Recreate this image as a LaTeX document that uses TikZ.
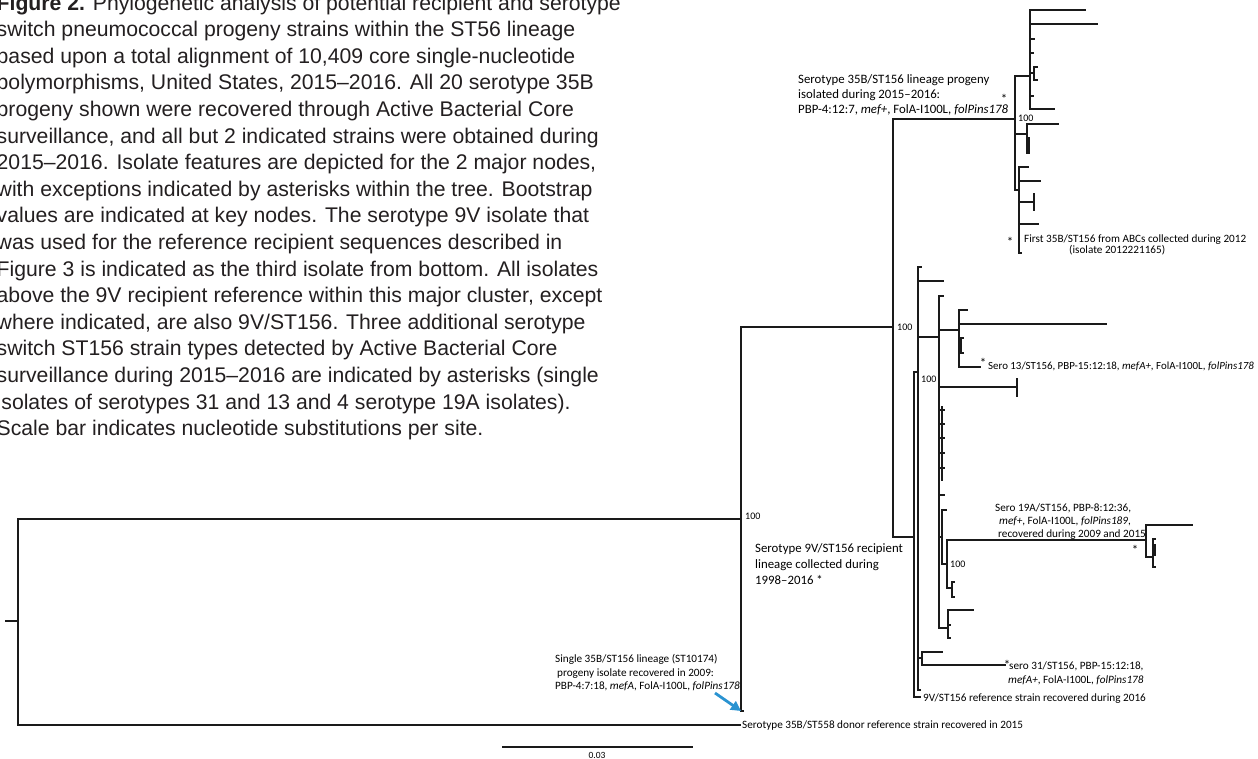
\documentclass[tikz,border=0pt]{standalone}
\usepackage{fontspec}
\setmainfont{Liberation Sans}
\newfontfamily\carl{Carlito}
\usetikzlibrary{arrows.meta}
\definecolor{capcol}{HTML}{231F20}
\definecolor{treecol}{HTML}{1A1A1A}
\definecolor{arrblue}{HTML}{2A93D1}
\newcommand{\hbr}[3]{\draw[br] (#1,#3) -- (#2,#3);}
\newcommand{\vbr}[3]{\draw[br] (#1,#2) -- (#1,#3);}
\begin{document}
\begin{tikzpicture}[x=1pt,y=-1pt,
  br/.style={line width=1.2pt,line cap=rect,draw=treecol},
  captxt/.style={anchor=base west,inner sep=0,font=\fontsize{21.2}{24}\selectfont,text=capcol},
  lab/.style={anchor=base west,inner sep=0,font=\carl\fontsize{12.8}{15}\selectfont},
  sml/.style={anchor=base west,inner sep=0,font=\carl\fontsize{11.2}{13}\selectfont},
  bs/.style={anchor=base west,inner sep=0,font=\carl\fontsize{10}{12}\selectfont},
  ast/.style={anchor=base,inner sep=0,font=\carl\fontsize{13}{13}\selectfont}]
\useasboundingbox (0,0) rectangle (1258,758);
% caption
\node[captxt] (c1) at (-3.5,10) {\textbf{Figure 2.} Phylogenetic analysis of potential recipient and serotype};
\node[captxt] (c2) at (-3.5,36.6) {switch pneumococcal progeny strains within the ST56 lineage};
\node[captxt] (c3) at (-3.5,63.2) {based upon a total alignment of 10,409 core single-nucleotide};
\node[captxt] (c4) at (-3.5,89.8) {polymorphisms, United States, 2015–2016. All 20 serotype 35B};
\node[captxt] (c5) at (-3.5,116.4) {progeny shown were recovered through Active Bacterial Core};
\node[captxt] (c6) at (-3.5,143) {surveillance, and all but 2 indicated strains were obtained during};
\node[captxt] (c7) at (-3.5,169.6) {2015–2016. Isolate features are depicted for the 2 major nodes,};
\node[captxt] (c8) at (-3.5,196.2) {with exceptions indicated by asterisks within the tree. Bootstrap};
\node[captxt] (c9) at (-3.5,222.8) {values are indicated at key nodes. The serotype 9V isolate that};
\node[captxt] (c10) at (-3.5,249.4) {was used for the reference recipient sequences described in};
\node[captxt] (c11) at (-3.5,276) {Figure 3 is indicated as the third isolate from bottom. All isolates};
\node[captxt] (c12) at (-3.5,302.6) {above the 9V recipient reference within this major cluster, except};
\node[captxt] (c13) at (-3.5,329.2) {where indicated, are also 9V/ST156. Three additional serotype};
\node[captxt] (c14) at (-3.5,355.8) {switch ST156 strain types detected by Active Bacterial Core};
\node[captxt] (c15) at (-3.5,382.4) {surveillance during 2015–2016 are indicated by asterisks (single};
\node[captxt] (c16) at (-3.5,409) {isolates of serotypes 31 and 13 and 4 serotype 19A isolates).};
\node[captxt] (c17) at (-3.5,435.6) {Scale bar indicates nucleotide substitutions per site.};
% ---- tree ----
% root
\vbr{18}{519}{725}
\hbr{6}{18}{621}
\hbr{18}{741}{519}
\hbr{18}{740}{725}
% A
\vbr{741}{327}{711}
\hbr{741}{893}{327}
\hbr{741}{743}{711}
% B
\vbr{893}{119}{537}
\hbr{893}{1015}{119}
\hbr{893}{914}{537}
% C
\vbr{1015}{76}{190}
\hbr{1015}{1030}{76}
\hbr{1015}{1027}{134}
\hbr{1015}{1019}{190}
% D
\vbr{1030}{10}{109}
\hbr{1030}{1085}{10}
\hbr{1030}{1097}{24}
\hbr{1030}{1034}{39}
\hbr{1030}{1033}{53}
\hbr{1030}{1034}{73}
\vbr{1034}{67}{80}
\hbr{1034}{1037}{67}
\hbr{1034}{1037}{80}
\hbr{1030}{1033}{96}
\hbr{1030}{1054}{109}
% E
\vbr{1027}{124}{153}
\hbr{1027}{1058}{124}
\draw[br,line width=2pt] (1028.5,138) -- (1028.5,153);
% F
\vbr{1019}{167}{253}
\hbr{1019}{1028}{167}
\hbr{1019}{1040}{181}
\hbr{1019}{1034}{202}
\vbr{1034}{194}{210}
\hbr{1019}{1038}{224}
\hbr{1019}{1021}{253}
% G
\vbr{914}{372}{697}
\hbr{914}{918}{372}
\hbr{914}{920}{697}
% H
\vbr{918}{267}{690}
\hbr{918}{921}{267}
\hbr{918}{943}{281}
\hbr{918}{939}{337}
\hbr{918}{922}{658}
\hbr{918}{920}{690}
% I
\vbr{939}{296}{628}
\hbr{939}{943}{296}
\hbr{939}{959}{330}
\hbr{939}{1017}{387}
\vbr{1017}{379}{396}
\draw[br,line width=2pt] (941.5,407) -- (941.5,480);
\foreach \yy in {410,424,438,453,468,495} {\hbr{939}{944}{\yy}}
\hbr{939}{942}{537}
\hbr{939}{948}{628}
% N
\vbr{942}{510}{564}
\hbr{942}{946}{510}
\hbr{942}{947}{564}
% L
\vbr{947}{540}{588}
\hbr{947}{1146}{540}
\hbr{947}{952}{588}
\vbr{952}{582}{597}
\hbr{952}{954}{582}
\hbr{952}{954}{597}
% O
\vbr{1146}{525}{557}
\hbr{1146}{1192}{525}
\hbr{1146}{1153}{557}
% P
\vbr{1153}{539}{567}
\hbr{1153}{1155}{539}
\hbr{1153}{1155}{550}
\vbr{1155}{545}{555}
\hbr{1153}{1155}{567}
% M
\vbr{948}{610}{638}
\hbr{948}{973}{610}
\hbr{948}{950}{625}
\hbr{948}{950}{638}
% K
\vbr{922}{652}{665}
\hbr{922}{942}{652}
\hbr{922}{1005}{665}
% J
\vbr{959}{310}{367}
\hbr{959}{967}{310}
\hbr{959}{1106}{324}
\hbr{959}{961}{345}
\vbr{961}{338}{353}
\hbr{961}{963}{338}
\hbr{961}{963}{353}
\hbr{959}{980}{367}
% scale bar
\coordinate (sbl) at (503,747);
\coordinate (sbr) at (692,747);
\draw[br] (sbl) -- (sbr);
\node[inner sep=0,anchor=base,font=\carl\fontsize{9.5}{10}\selectfont] (sbt) at (597,758) {0.03};
% bootstrap values
\node[bs] (bA) at (745,519.5) {100};
\node[bs] (bB) at (897,330.5) {100};
\node[bs] (bC) at (1018,121.5) {100};
\node[bs] (bH) at (921,382.5) {100};
\node[bs] (bL) at (950,567.5) {100};
% labels
\node[lab] (p1) at (798,83) {Serotype 35B/ST156 lineage progeny};
\node[lab] (p2) at (798,98) {isolated during 2015–2016:};
\node[lab] (p3) at (798,113) {PBP-4:12:7, \textit{mef+}, FolA-I100L, \textit{folPins178}};
\node[ast] (a1) at (1004,103.5) {*};
\node[ast] (a2) at (1010,246) {*};
\node[sml] (f1) at (1024,242.5) {First 35B/ST156 from ABCs collected during 2012};
\node[sml] (f2) at (1069,253) {(isolate 2012221165)};
\node[ast] (a3) at (983,367) {*};
\node[sml,font=\carl\fontsize{10.9}{13}\selectfont] (s13) at (988,369) {Sero 13/ST156, PBP-15:12:18, \textit{mefA+}, FolA-I100L, \textit{folPins178}};
\node[sml] (s19a) at (995,511) {Sero 19A/ST156, PBP-8:12:36,};
\node[sml] (s19b) at (999,524) {\textit{mef+}, FolA-I100L, \textit{folPins189},};
\node[sml] (s19c) at (998,537) {recovered during 2009 and 2015};
\node[ast] (a4) at (1135,554) {*};
\node[lab] (v1) at (755,552) {Serotype 9V/ST156 recipient};
\node[lab] (v2) at (755,568) {lineage collected during};
\node[lab] (v3) at (755,584) {1998–2016 *};
\node[ast] (a5) at (1007,669) {*};
\node[sml] (s31a) at (1009,669) {sero 31/ST156, PBP-15:12:18,};
\node[sml] (s31b) at (1008,683) {\textit{mefA+}, FolA-I100L, \textit{folPins178}};
\node[sml] (ref) at (923,701) {9V/ST156 reference strain recovered during 2016};
\node[sml] (don) at (742,728) {Serotype 35B/ST558 donor reference strain recovered in 2015};
\node[sml] (g1) at (555,662) {Single 35B/ST156 lineage (ST10174)};
\node[sml] (g2) at (557,676) {progeny isolate recovered in 2009:};
\node[sml] (g3) at (555,689) {PBP-4:7:18, \textit{mefA}, FolA-I100L, \textit{folPins178}};
% arrow
\coordinate (atail) at (715,693);
\coordinate (ahead) at (741,711);
\draw[arrblue,line width=2.8pt,-{Triangle[length=10pt,width=10pt]}] (atail) -- (ahead);
\end{tikzpicture}
\end{document}
